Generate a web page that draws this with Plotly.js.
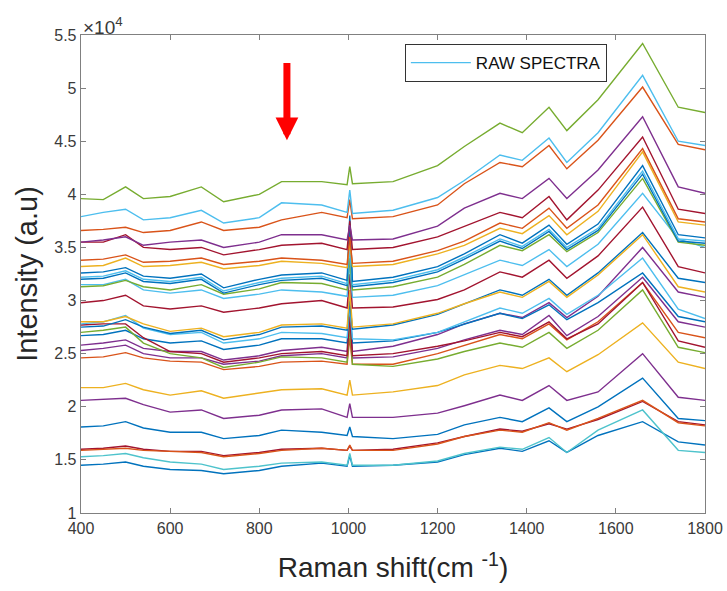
<!DOCTYPE html>
<html>
<head>
<meta charset="utf-8">
<script src="https://cdn.plot.ly/plotly-3.0.1.min.js"></script>
<style>html,body{margin:0;padding:0;background:#fff;}#chart{width:727px;height:591px;}</style>
</head>
<body>
<div id="chart"></div>
<script>
// Raman shift nodes (cm^-1)
const shift = [400, 450, 500, 540, 600, 670, 720, 800, 850, 940, 997, 1003, 1009, 1100, 1200, 1260, 1340, 1390, 1450, 1490, 1560, 1660, 1740, 1800];
// Intensities in units of 1e4 (a.u.)
const s01 = [3.96, 3.95, 4.07, 3.96, 3.98, 4.07, 3.93, 4.00, 4.12, 4.12, 4.09, 4.26, 4.10, 4.12, 4.27, 4.45, 4.67, 4.58, 4.82, 4.60, 4.89, 5.42, 4.82, 4.77];
const s02 = [3.79, 3.83, 3.86, 3.76, 3.78, 3.85, 3.73, 3.78, 3.92, 3.90, 3.83, 4.04, 3.82, 3.85, 3.97, 4.13, 4.37, 4.32, 4.53, 4.30, 4.58, 5.12, 4.50, 4.46];
const s03 = [3.66, 3.67, 3.69, 3.64, 3.66, 3.74, 3.66, 3.69, 3.76, 3.83, 3.78, 3.95, 3.77, 3.79, 3.90, 4.10, 4.30, 4.26, 4.46, 4.24, 4.51, 5.01, 4.47, 4.42];
const s04 = [3.55, 3.57, 3.60, 3.52, 3.55, 3.57, 3.50, 3.55, 3.62, 3.62, 3.57, 3.71, 3.57, 3.58, 3.70, 3.87, 4.01, 3.96, 4.15, 3.96, 4.23, 4.73, 4.07, 4.01];
const s05 = [3.55, 3.55, 3.62, 3.50, 3.48, 3.50, 3.43, 3.48, 3.52, 3.54, 3.48, 3.75, 3.48, 3.50, 3.60, 3.70, 3.83, 3.78, 3.98, 3.76, 4.04, 4.54, 3.86, 3.82];
const s06 = [3.38, 3.39, 3.43, 3.36, 3.37, 3.40, 3.34, 3.37, 3.40, 3.38, 3.34, 3.60, 3.35, 3.37, 3.47, 3.56, 3.73, 3.68, 3.87, 3.68, 3.90, 4.43, 3.77, 3.74];
const s07 = [3.32, 3.33, 3.40, 3.32, 3.33, 3.36, 3.30, 3.33, 3.37, 3.35, 3.31, 3.55, 3.32, 3.34, 3.44, 3.52, 3.68, 3.63, 3.80, 3.62, 3.84, 4.40, 3.74, 3.71];
const s08 = [3.26, 3.27, 3.31, 3.23, 3.21, 3.25, 3.12, 3.20, 3.24, 3.26, 3.19, 3.80, 3.18, 3.22, 3.32, 3.44, 3.62, 3.54, 3.71, 3.53, 3.72, 4.27, 3.62, 3.59];
const s09 = [3.22, 3.23, 3.28, 3.20, 3.18, 3.22, 3.09, 3.17, 3.21, 3.23, 3.16, 3.50, 3.15, 3.19, 3.29, 3.41, 3.58, 3.51, 3.67, 3.50, 3.68, 4.22, 3.58, 3.56];
const s10 = [3.20, 3.21, 3.26, 3.18, 3.16, 3.20, 3.07, 3.15, 3.19, 3.21, 3.14, 3.70, 3.13, 3.17, 3.27, 3.39, 3.56, 3.49, 3.65, 3.48, 3.66, 4.19, 3.56, 3.54];
const s11 = [3.13, 3.14, 3.19, 3.13, 3.10, 3.15, 3.06, 3.11, 3.17, 3.16, 3.10, 3.40, 3.10, 3.13, 3.22, 3.34, 3.52, 3.47, 3.62, 3.46, 3.64, 4.15, 3.55, 3.52];
const s12 = [3.15, 3.15, 3.20, 3.10, 3.07, 3.10, 3.02, 3.06, 3.10, 3.08, 3.04, 3.35, 3.03, 3.05, 3.14, 3.24, 3.38, 3.33, 3.48, 3.32, 3.53, 4.01, 3.58, 3.50];
const s13 = [2.98, 3.00, 3.05, 2.95, 2.92, 2.95, 2.89, 2.93, 2.97, 3.00, 2.93, 3.25, 2.93, 2.94, 3.01, 3.10, 3.27, 3.22, 3.38, 3.21, 3.42, 3.88, 3.32, 3.26];
const s14 = [2.80, 2.80, 2.85, 2.78, 2.71, 2.74, 2.66, 2.70, 2.77, 2.78, 2.74, 3.10, 2.75, 2.78, 2.88, 2.97, 3.08, 3.03, 3.18, 3.03, 3.24, 3.62, 3.13, 3.08];
const s15 = [2.75, 2.76, 2.82, 2.75, 2.69, 2.72, 2.63, 2.68, 2.75, 2.76, 2.72, 3.00, 2.73, 2.77, 2.87, 2.97, 3.10, 3.05, 3.20, 3.05, 3.26, 3.64, 3.21, 3.17];
const s16 = [2.78, 2.80, 2.86, 2.74, 2.68, 2.70, 2.60, 2.64, 2.70, 2.69, 2.65, 2.95, 2.64, 2.63, 2.70, 2.80, 2.93, 2.88, 3.02, 2.87, 3.05, 3.40, 2.92, 2.83];
const s17 = [2.77, 2.78, 2.78, 2.65, 2.52, 2.50, 2.42, 2.46, 2.50, 2.52, 2.48, 2.85, 2.48, 2.50, 2.57, 2.62, 2.70, 2.66, 2.80, 2.64, 2.78, 3.17, 2.62, 2.56];
const s18 = [2.70, 2.72, 2.75, 2.60, 2.50, 2.46, 2.37, 2.42, 2.47, 2.46, 2.42, 2.75, 2.40, 2.38, 2.45, 2.52, 2.60, 2.56, 2.70, 2.55, 2.72, 3.10, 2.56, 2.51];
const s19 = [2.67, 2.68, 2.72, 2.64, 2.60, 2.62, 2.54, 2.58, 2.64, 2.64, 2.60, 2.90, 2.60, 2.62, 2.70, 2.78, 2.88, 2.83, 2.96, 2.82, 2.98, 3.26, 2.85, 2.80];
const s20 = [2.58, 2.60, 2.63, 2.55, 2.52, 2.52, 2.44, 2.48, 2.53, 2.56, 2.52, 2.95, 2.52, 2.57, 2.68, 2.78, 2.88, 2.84, 2.98, 2.84, 3.04, 3.50, 3.08, 3.03];
const s21 = [2.53, 2.55, 2.58, 2.50, 2.46, 2.46, 2.40, 2.43, 2.48, 2.50, 2.46, 2.80, 2.46, 2.47, 2.55, 2.63, 2.72, 2.68, 2.86, 2.67, 2.85, 3.22, 2.80, 2.75];
const s22 = [2.46, 2.47, 2.51, 2.46, 2.43, 2.42, 2.35, 2.38, 2.42, 2.43, 2.40, 2.65, 2.40, 2.40, 2.50, 2.58, 2.68, 2.64, 2.78, 2.63, 2.80, 3.17, 2.70, 2.65];
const s23 = [2.18, 2.18, 2.22, 2.16, 2.11, 2.15, 2.08, 2.13, 2.16, 2.17, 2.11, 2.25, 2.11, 2.14, 2.20, 2.30, 2.39, 2.36, 2.46, 2.33, 2.49, 2.79, 2.42, 2.36];
const s24 = [2.06, 2.07, 2.08, 2.02, 1.95, 1.97, 1.89, 1.92, 1.97, 1.98, 1.90, 2.03, 1.90, 1.90, 1.94, 2.01, 2.11, 2.06, 2.20, 2.06, 2.14, 2.50, 2.09, 2.06];
const s25 = [1.81, 1.82, 1.86, 1.80, 1.76, 1.76, 1.70, 1.73, 1.78, 1.76, 1.73, 1.81, 1.72, 1.70, 1.74, 1.83, 1.90, 1.86, 1.99, 1.86, 2.00, 2.27, 1.89, 1.87];
const s26 = [1.59, 1.60, 1.61, 1.59, 1.58, 1.57, 1.53, 1.56, 1.59, 1.61, 1.59, 1.64, 1.59, 1.59, 1.65, 1.72, 1.78, 1.76, 1.85, 1.78, 1.89, 2.06, 1.85, 1.82];
const s27 = [1.60, 1.61, 1.63, 1.60, 1.58, 1.58, 1.54, 1.57, 1.60, 1.61, 1.59, 1.63, 1.59, 1.60, 1.66, 1.72, 1.79, 1.77, 1.84, 1.79, 1.88, 2.05, 1.86, 1.83];
const s28 = [1.53, 1.54, 1.56, 1.52, 1.48, 1.46, 1.41, 1.44, 1.47, 1.48, 1.45, 1.56, 1.45, 1.45, 1.49, 1.56, 1.62, 1.60, 1.71, 1.57, 1.78, 1.97, 1.59, 1.57];
const s29 = [1.45, 1.46, 1.48, 1.44, 1.41, 1.40, 1.37, 1.40, 1.44, 1.47, 1.44, 1.54, 1.44, 1.45, 1.48, 1.55, 1.61, 1.58, 1.68, 1.57, 1.73, 1.86, 1.67, 1.64];

const yTicks = [1, 1.5, 2, 2.5, 3, 3.5, 4, 4.5, 5, 5.5];
const xTicks = [400, 600, 800, 1000, 1200, 1400, 1600, 1800];
const legendName = 'RAW SPECTRA';

const C = {blue:'#0072BD', orange:'#D95319', yellow:'#EDB120', purple:'#7E2F8E', green:'#77AC30', lblue:'#4DBEEE', dred:'#A2142F', teal:'#4EC3CC'};
const spectra = [
  [s29, C.blue], [s28, C.teal], [s27, C.dred], [s26, C.orange], [s25, C.blue], [s24, C.purple], [s23, C.yellow],
  [s22, C.orange], [s21, C.purple], [s20, C.purple], [s19, C.blue], [s18, C.green], [s17, C.dred], [s16, C.lblue], [s15, C.blue], [s14, C.yellow],
  [s13, C.dred], [s12, C.lblue], [s11, C.green], [s10, C.blue], [s09, C.lblue], [s08, C.blue], [s07, C.yellow], [s06, C.orange],
  [s05, C.dred], [s04, C.purple], [s03, C.orange], [s02, C.lblue], [s01, C.green]
];

const traces = spectra.map(([y, col]) => ({
  x: shift, y: y, type: 'scatter', mode: 'lines',
  line: {color: col, width: 1.4},
  name: legendName,
  showlegend: y === s02,
  hoverinfo: 'skip'
}));

const FONT = 'Liberation Sans, Arial, sans-serif';
const axisCommon = {
  showline: true, linecolor: '#808080', linewidth: 1.3, mirror: 'ticks',
  ticks: 'inside', ticklen: 5, tickcolor: '#808080', tickwidth: 1,
  showgrid: false, zeroline: false,
  tickfont: {family: FONT, size: 16, color: '#3a3a3a'}
};

const layout = {
  width: 727, height: 591,
  margin: {l: 81, r: 22, t: 35, b: 78},
  paper_bgcolor: '#ffffff', plot_bgcolor: '#ffffff',
  xaxis: Object.assign({}, axisCommon, {
    range: [400, 1800], tickvals: xTicks,
    title: {text: 'Raman shift(cm <sup>-1</sup>)', font: {family: FONT, size: 28, color: '#262626'}, standoff: 22}
  }),
  yaxis: Object.assign({}, axisCommon, {
    range: [1, 5.5], tickvals: yTicks,
    title: {text: 'Intensity (a.u)', font: {family: FONT, size: 29, color: '#262626'}, standoff: 8}
  }),
  showlegend: true,
  legend: {
    x: 0.519, y: 0.981, xanchor: 'left', yanchor: 'top',
    bgcolor: '#ffffff', bordercolor: '#333333', borderwidth: 1,
    font: {family: FONT, size: 17, color: '#111'},
    itemwidth: 60, tracegroupgap: 0
  },
  annotations: [
    {xref: 'paper', yref: 'paper', x: 0, y: 1, xanchor: 'left', yanchor: 'bottom', yshift: -5,
     text: '×10<sup>4</sup>', showarrow: false,
     font: {family: FONT, size: 19, color: '#3a3a3a'}},
    {xref: 'x', yref: 'y', axref: 'x', ayref: 'y', x: 862, y: 4.51, ax: 862, ay: 5.25,
     text: '', showarrow: true, arrowcolor: '#ff0000', arrowwidth: 7, arrowhead: 2, arrowsize: 0.65, standoff: 0, startstandoff: 0}
  ]
};

Plotly.newPlot('chart', traces, layout, {displayModeBar: false, staticPlot: true});
</script>
</body>
</html>
